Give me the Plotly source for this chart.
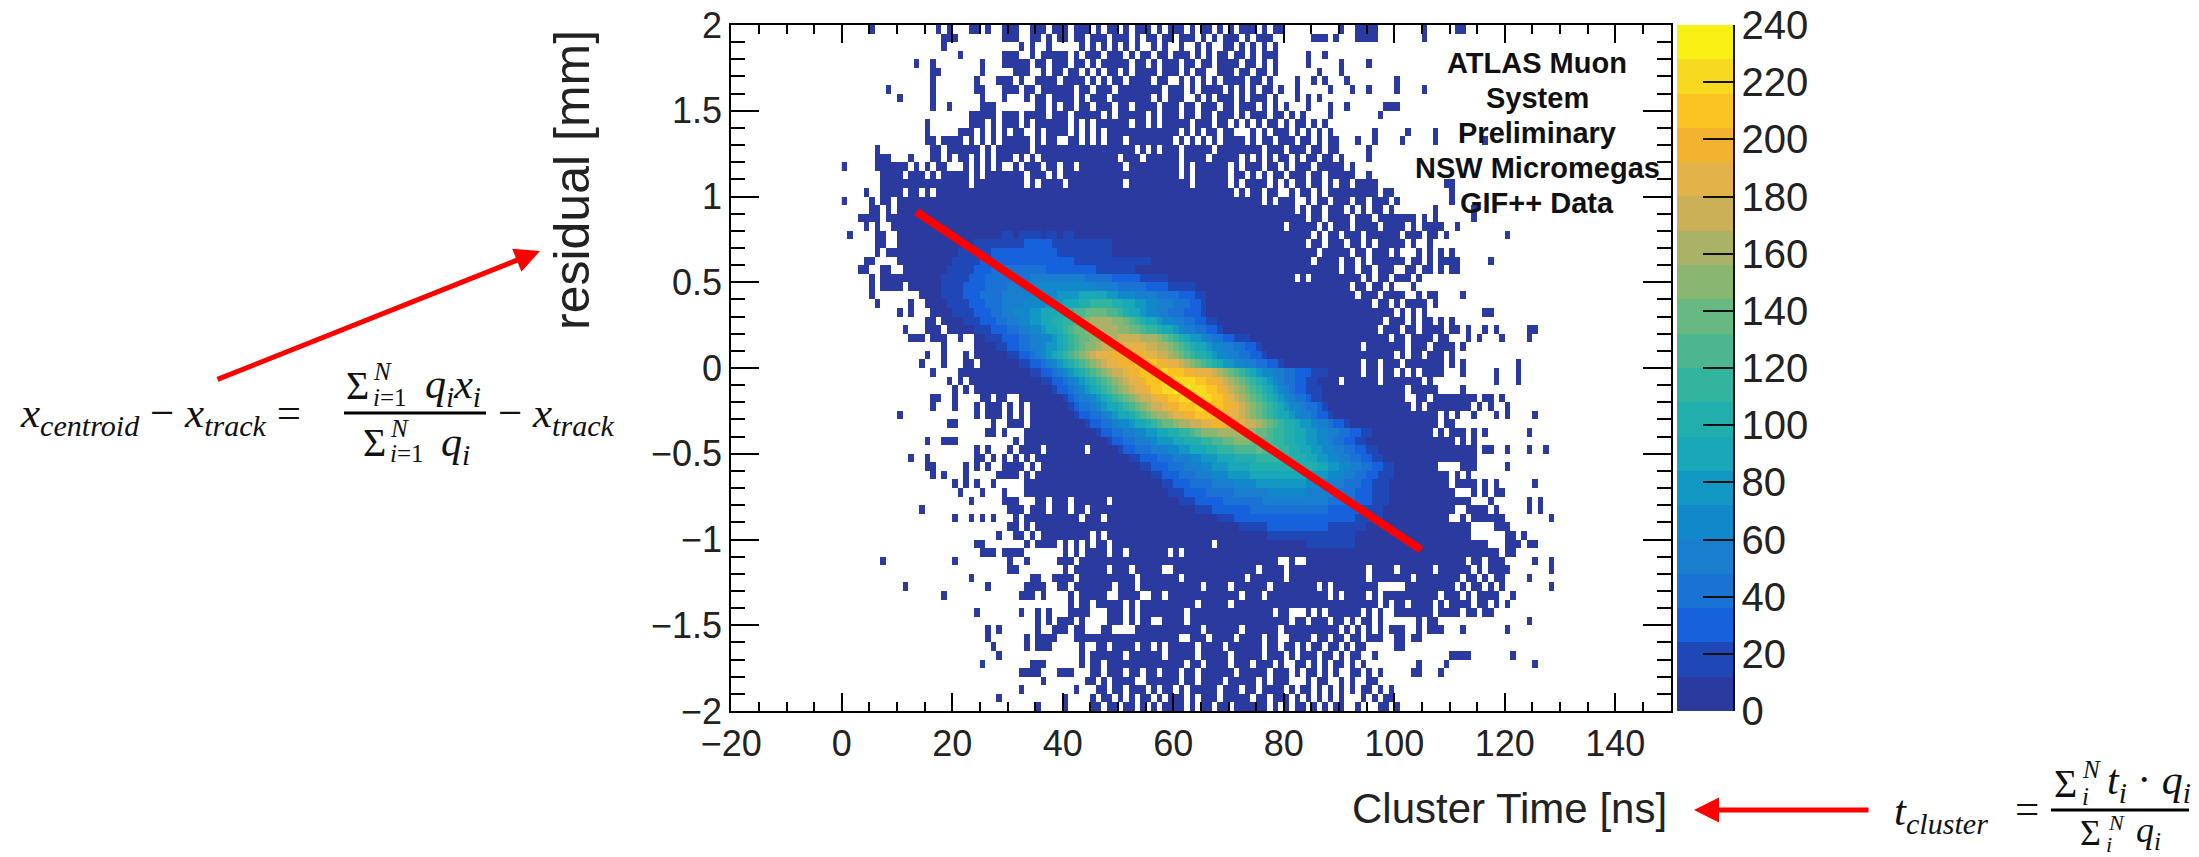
import plotly.graph_objects as go

W, H = 2199, 857
PAGE_MARGIN = 8  # the page body offsets the figure by this many pixels

# Histogram occupancy, one string per y bin from y=2 downward, one char per 1 ns bin from x=0.
# "." = empty, "0" = lowest colour band (0-12 counts). Groups of ten columns for legibility.
OCCUPANCY_ROWS = [
".....0.... .......0.0 ...00.0..0 00..000.00 0.000.0.00 .0.000.0.0 00.0.00.0. 0.000.0.00 .......... 0..0000... .....0.... .00",
".......... ........00 0........0 00..00.0.0 0.00.000.0 00.0.00.00 .000.0.0.0 00.0.000.. .....000.0 ...0000... .....0....",
".......... ........0. .......... ..0.0..0.. ...0.0.0.0 .0.0..0.0. .0..0.0..0 0.0.0.0.0.",
".......... .......... .0.......0 00..0.0000 0.0.000.00 0.0.00.00. 000.0.0.00 .00.0.000. ....0..0..",
".......... ...0..0... .....0...0 0000.00.00 0.00.0.000 00.00.0.00 0.00.00.00 00.00.0.0. ....0..... 0....0....",
".......... ......00.. .....0.... .000..0.00 .00.0.0.00 .0.0000.00 0.0.00..00 0.00.00.0. ......0... 0.........",
".......... ......0... ....0...00 0.0..0000. 0000.0.0.0 0.0000.00. .0.0.0.0.0 000.00.0.. ..0..0.0.. .0........ 0.........",
"........0. ......0... ....00...0 00.00.0000 00.00.000. 00000000.0 00.0.0000. 0.0.0.00.0 ..0.....0. ..0..0.... 0....0....",
".......... 0.....0... .....0...0 ...0.00.00 00.0.000.0 000000.0.0 00..0.0.00 0.0.000.0. ..0.0.0... ..........",
".......... ......0..0 .....000.. .....00.0. 00.00.000. 00.0000.00 0.00.000.0 0.000.0.0. 0...0...0. .0......00 0.........",
".......... .......... ...00000.0 00.0000.00 0.00000.0. 00000.0.00 0.00.00.00 0.0.000.00 .0.0....0. .......0..",
".......... .....0.... ...000.0.0 00.0.00000 0.0.0.0000 00.00.0.00 000.000.00 .0.0.0.00. 0.00.0.0.. ..........",
".......... .....0.... .000.0.0.0 .00..0.000 0.0.0.0.00 0000000000 0.0.0.00.0 0...0.0.00 0.0.0.0.0. ......0... ..0....0..",
".......... .....00.00 00.0.0.0.0 0000.0.00. .00.0.0.00 0.00000000 .0.0.0.0.0 000.0.00.0 00.00.0.00 ...0..0... .0.....0.. ......0...",
"......0... ......00.0 00000.0.00 0000.00000 0000000000 000.0.0.00 0.00000.00 000000.000 .000.00.00 .....0....",
"......000. ..0...00.0 .00.0.0.00 0.0.0.0000 0000000000 .000.00000 0.0000.000 00.0.0.0.0 0.0.00.00. 0....0....",
"0.....0000 00.0.0.00. ..0.0.0.0. .0.000.00. 00.0000000 0.00000000 0.0.000000 .0.000.00. 0.000.0000 0.0.......",
".......000 0.000.0.00 000.0.0000 000.000.0. 0000000000 0000000000 0.0.000000 .00.0.0.00 .000.00.00 000..0....",
".......000 0000000000 000.000000 000.0.0000 .000000000 0.00000000 000.000000 .0.0000.0. 0.00.00.0. 00.0000... .........0 0.........",
"....0..000 0.00.0.000 0000000000 0000000000 0000000000 0000000000 0000000000 0.0.00.00. .0.00.0.00 0000000.00 .......... 0.........",
"0....0.00. 0000000000 0000000000 0000000000 0000000000 0000000000 0000000000 000000.0.0 00..0.00.0 00.00.000. 0......... 0.........",
".....00.0. 0000000000 0000000000 0000000000 0000000000 0000000000 0000000000 0000000000 00.0.00.00 0.0.0.00.0 .......0.. ....0.....",
"...0000.00 0000000000 0000000000 0000000000 0000000000 0000000000 0000000000 0000000000 0000.00.00 00.000.000 0000.0.0.. ....0.....",
"....0.0..0 0000000000 0000000000 0000000000 0000000000 0000000000 0000000000 0000000000 .00000.0.0 00.0000.00 00.0.0000. .0........",
".0....00.. 0000000000 0000000000 0000000000 0000000000 0000000000 0000000000 0000000000 00000.0.00 .000.00000 0.000.00.0 .......... 0.........",
"......00.. 0000000000 0000000000 0000000000 0000000000 0000000000 0000000000 0000000000 0000.00.00 0.00.0.000 00.0..0...",
"......0.00 0000000000 0000000000 0000000000 0000000000 0000000000 0000000000 0000000000 000000.000 00.00.000. 0...0.0.0. 0.........",
"....00.... 0000000000 0000000000 0000000000 0000000000 0000000000 0000000000 0000000000 00000.0000 .00.0.0000 00.00.0.00 00.....0..",
"...00..00. .000000000 0000000000 0000000000 0000000000 0000000000 0000000000 0000000000 0000000000 .00.00.000 ..00.00.0. 00........",
".....0.000 0000000000 0000000000 0000000000 0000000000 0000000000 0000000000 0000000000 00.0.00000 0000.0.00. 000.0.....",
".....0.000 0.00000000 0000000000 0000000000 0000000000 0000000000 0000000000 0000000000 0000000000 00.00.00.0 ...0......",
".....0.... ....000000 0000000000 0000000000 0000000000 0000000000 0000000000 0000000000 0000000000 000.000.00 00..0.00.. ..0.......",
"......0... ..0..00000 0000000000 0000000000 0000000000 0000000000 0000000000 0000000000 0000000000 000000.00. 0.0000.0.. ..........",
".......... 0.0...0000 0000000000 0000000000 0000000000 0000000000 0000000000 0000000000 0000000000 0000000000 .0.0.0.... ......00..",
".......... .....00.00 0000000000 0000000000 0000000000 0000000000 0000000000 0000000000 0000000000 00000000.0 00.0.00.0. 0.........",
".......... .0...000.0 0000000000 0000000000 0000000000 0000000000 0000000000 0000000000 0000000000 0000000.00 0.00.0000. 00.0..0.0. ....00....",
".......... ..000.000. .0..000000 0000000000 0000000000 0000000000 0000000000 0000000000 0000000000 000000000. 00.0000.00 ...0.0...0 ....0.....",
".......... ........0. ....000000 0000000000 0000000000 0000000000 0000000000 0000000000 0000000000 0000.00000 00.000.000 0.0.......",
".......... .....0..0. ..0.000000 0000000000 0000000000 0000000000 0000000000 0000000000 0000000000 0000000000 .0.00.000. 0.........",
".......... ....0...0. ..00.00000 0000000000 0000000000 0000000000 0000000000 0000000000 0000000000 0000.00.00 0.0000000. 0.0....... ..0.......",
".......... ......0... .000000000 0000000000 0000000000 0000000000 0000000000 0000000000 0000000000 0000.00.00 .0.0.0000. ..0.....0. ..0.......",
".......... .........0 .0.0000000 0000000000 0000000000 0000000000 0000000000 0000000000 0000000000 .000000.00 00000.0... ........0. ..0.......",
".......... .......... 0.0.000000 0000000000 0000000000 0000000000 0000000000 0000000000 0000000000 0000000000 00.00000.. ..0.......",
".......... ......00.. 0....00.00 ..00000000 0000000000 0000000000 0000000000 0000000000 0000000000 0000000000 00..00.000 00000.00.0",
".......... ......0... 0...0.000. 0.0.000000 0000000000 0000000000 0000000000 0000000000 0000000000 0000000000 000.0.0000 0000.0.0.. 0.........",
".......... 0......... ....0.000. 0.0.000000 0000000000 0000000000 0000000000 0000000000 0000000000 0000000000 00000000.0 .0..0...0. 0....0....",
".......... .........0 0......0.. 000.000000 0000000000 0000000000 0000000000 0000000000 0000000000 0000000000 00000000.0 0.........",
".......... .......... ......00.0 ...0000000 0000000000 0000000000 0000000000 0000000000 0000000000 0000000000 0000000.0. 000.0.0... ....0.....",
".......... .....0..00 0......... .0.0000000 0000000000 0000000000 0000000000 0000000000 0000000000 0000000000 0000000000 0.0.0.....",
".......... .......... ....0.0... 0.0000.000 0000.00000 0000000000 0000000000 0000000000 0000000000 0000000000 0000000000 00000.00.. 0...0..0..",
".......... ..0..0.... ....00.0.0 .0.0.00000 0000000000 0000000000 0000000000 0000000000 0000000000 0000000000 0000000000 00000.....",
".......... .....00... ..0.0.0..0 000.0.0000 0000000000 0000000000 0000000000 0000000000 0000000000 0000000000 00000000.. ..000..... 0.........",
".......... ......0.0. ..0.....00 00.0.00000 0000000000 0000000000 0000000000 0000000000 0000000000 0000000000 0000000000 .0.0......",
".......... .......... 0.0.0..0.. ...0000000 0000000000 0000000000 0000000000 0000000000 0000000000 0000000000 0000000000 .0000.0.0. .....0....",
".......... .......... .0...0...0 ...0000000 0000000000 0000000000 0000000000 0000000000 0000000000 0000000000 0000000000 0...0.0.00",
".......... .......... ...0.....0 00...00.00 0.000000.0 0000000000 0000000000 0000000000 0000000000 0000000000 0000000000 0000...0.. ....0.0...",
".......... ....0..... .......... 000.000.00 0.00.00000 0000000000 0000000000 0000000000 0000000000 0000000000 0000000000 0..0000.0. ....0.0...",
".......... .......... 0..0.0.0.. .0.0000000 000.000.00 0000000000 0000000000 0000000000 0000000000 0000000000 0000000000 ..0.000000 ........0.",
".......... .......... .......... 00.0.00000 0000000000 0000000000 0000000000 0000000000 0000000000 0000000000 0000000000 0000....00 0.........",
".......... .......... ........0. .00.0.0000 00000.0.00 0000000000 0000000000 0000000000 0000000000 0000000000 0000000000 0000...... 00.0......",
".......... .......... ....00.... ...0.0000. 0.0.0.00.0 0000000000 0000000.00 0000000000 0000000000 0000000000 0000000000 0000000... 000.00....",
".......... .......... .....000.0 000....... 0.0.0000.0 0.0000000. 0.00000000 0000000000 0000000000 0000000000 0000000000 000000000. 00........",
".......0.. .......... 0......... 0..0.....0 00.0000000 0000000000 0000000000 000000000. .0..000000 0000000000 0000000000 000.00.000 .....0..0.",
".......... .......... .......... 00........ 0.000000.0 00.00000.. 0000000000 00000.0000 .000000000 00000.0000 .000000.00 0000.0.000 0.......0.",
".......... .......... ...0...... ....00..00 00.0000000 000.000000 0.00000000 000.000000 .000000000 00000.0000 000.000000 00.00.0.00 ....0.....",
".......... .0........ ......0... ...0000..0 0.0000000. 000.000000 00000.0000 .000000.00 000000.0.0 0000000... ..00000000 0.0.00.0.0 ........0.",
".......... ........0. .......... ..000.0... .0.00000.. 0000..00.0 0000000000 00.000.000 00000000.0 .0000.0.00 00000000.0 00.0.0000. .0........",
".......... .......... .......... .......... .0.00.0000 0.0.000000 0000.00000 .000000000 0000000000 0000000.0. 00.0000.0. 0000.00.0. 0.........",
".......... .......... ....0..... ..0..0.0.. .0000...00 0.0.000000 00.0000000 00000000.0 0...0.0.00 0000.0.0.. 0000000.00 00.00.00..",
".......... .......... .......... .....0.0.0 00.0....00 0.0.00..00 00.0000000 0000000000 0.00.000.0 0.0.00.0.. ....0.00.. .......... ....0.....",
".......... .......... ......0.0. .....0..00 0.00...00. ...0000000 00000.0000 00.000000. 0000000000 .0.0.0.0.0 00..0.000. ..0....... 0.........",
".......... .......... ......0... ...0.0000. ..00000000 0000000000 0..000.000 0.0000.00. .0000.00.0 0.00.000.. 00.00.....",
".......... .......... .......0.. ...0.000.. ...0..00.0 000.00.0.0 0000.0000. 000000.00. 00.0.00.00 .0.00..... 00........",
".......... .......... ........0. .......... ...0.00000 0.000000.0 0000.00000 .00000.000 .0.000.00. 0.00..0... .......... 0000...... .0........",
".......... .......... .....0.... ....000... ...0.00.00 0000000000 00.00.0000 .000.000.0 ..00.0.0.0 0.0.0..... ....0....0 .......... .....0....",
".......... .......... .......... ..0000...0 00...00.00 0.00.00.00 0.00.00000 0.00000.00 0.0.00.0.0 ..00.0.0.. ...00...0.",
".......... .......... .......... ......0... ....00.0.0 000..00000 0.00.0000. 00000.0.00 0...0.00.. 0.0..00...",
".......... .......... .......... ..0....... ..0...00.0 0.000.0.00 .0.00000.0 00.00.0000 .0.00.0.0. 0.0.00.0.0",
".......... .......... ........0. .......... 0....0.00. 0.0.00.0.0 00.0.000.0 0000.00.00 0.0.0.0.0. 0...0.0.00",
".......... .......... .......... .....0.... 0....00.00 .00.0.0.00 00.0.00.00 .000000.0. 0.00.0.0.0 0..0...00. 0.........",
]

# Brighter bands of the ridge: band digits (base 20) per row, written from the start column.
CORE_ROW = [24, 25, 26, 27, 28, 29, 30, 31, 32, 33, 34, 35, 36, 37, 38, 39, 40, 41, 42, 43, 44, 45,
            46, 47, 48, 49, 50, 51, 52, 53, 54, 55, 56, 57, 58, 59, 60]
CORE_START = [28, 24, 21, 20, 19, 18, 18, 18, 19, 20, 22, 24, 26, 28, 30, 32, 34, 36, 38, 40, 41, 42,
              44, 46, 48, 50, 52, 54, 56, 58, 59, 61, 64, 68, 72, 77, 84]
CORE_BANDS = [
"01101111011011",
"1111111112222211111111111",
"1111112222222222221111111111",
"111112222222222222222211111111111111",
"1111122233333333332222222221111111",
"11111222333333334444444444333332222211111",
"1111222233334444455555555555444433333222211111",
"111122233334444455555666677777665554444333322211",
"11112223334444555566677788999988776655444333221",
"1111222334455566777889aabbbbaa9877655443332221",
"11122233445566778899abcddddccba987765544332211",
"11122233445567789abbccddddccbba99877654433221",
"1112223344556789abbccdddeeeedddcba98766543322111",
"11223344566789abccdeeeeffffeeddcba98776554433221",
"11223456789abcdefffggggggffeedcba98876554433221",
"11223456789abcdeffggghhhhggffedcba98766554433221",
"11223456789abcdeefgghhhhihhhggfffedcba9876554433222111",
"11223456789abcdeffghhhiiiiiihhggfedcba987654332211",
"1223456789abcdeffghhiijjjiiihhgfedcba987654322111",
"1234456789abcdeefgghhiijjiihhgfedcba98765433211",
"12334567789abcdeefgghhhiihhhggfedcba98765543321",
"122334567789abcddeffgghhhhggffedcba987765443221",
"1223345567789abbcddeeffggggffeedcba9887665443221",
"12233445566778899abcccdddddccbba998877665544332211",
"1223344456667788899aabbcccbbaa99887766554332211",
"122333444556677788999aaaabaaa998877665544332211",
"1122233344455666777888899999988877665544332211",
"1122233344455666777788888888888877665544332211",
"11222333444555666677777777777666555443322111",
"11222333344445555666666666555544433322111",
"1112222333334444445555555444443333222111",
"11122222333333344444444444433333222111",
"1112222222333333333333332222221111",
"111222222222222222222222211111",
"11111222222222221111111",
"1111111111111111",
"111111111",
]

BAND_STEP = 12
COLOR_BANDS = ["#2b3a9f", "#1f47b5", "#1662dc", "#1a72d4", "#1a7ecf", "#1188ca", "#1298c2", "#18a8b8",
               "#22aeac", "#33b49f", "#4bb690", "#68b882", "#89b772", "#a9b266", "#cbb058", "#e3b248",
               "#f2b430", "#fcc423", "#f7d91f", "#f9f114"]

X_CENTERS = [c + 0.5 for c in range(130)]
Y_CENTERS = [2 - 0.05 * (r + 0.5) for r in range(80)]
CBAR_TICKS = [0, 20, 40, 60, 80, 100, 120, 140, 160, 180, 200, 220, 240]
FIT_X = [13.5, 104.8]
FIT_Y = [0.91, -1.06]
STAMP_LINES = ["ATLAS Muon", "System", "Preliminary", "NSW Micromegas", "GIF++ Data"]
STAMP_Y = [63, 98, 133, 168, 203]

DIGITS = "0123456789abcdefghij"


def count_of(ch):
    return (DIGITS.index(ch) + 0.5) * BAND_STEP


grid = []
for text in OCCUPANCY_ROWS:
    joined = text.replace(" ", "").ljust(130, ".")[:130]
    grid.append([None if ch == "." else count_of(ch) for ch in joined])
for row, start, bands in zip(CORE_ROW, CORE_START, CORE_BANDS):
    for i, ch in enumerate(bands):
        grid[row][start + i] = count_of(ch)

steps = []
n = len(COLOR_BANDS)
for i, col in enumerate(COLOR_BANDS):
    steps.append([i / n, col])
    steps.append([(i + 1) / n, col])


def px(x):
    return (x - PAGE_MARGIN) / W


def py(y):
    return 1 - (y - PAGE_MARGIN) / H


L, R, T, B = 731.3, 1670.5, 25, 711

fig = go.Figure()
fig.add_trace(go.Heatmap(
    x=X_CENTERS, y=Y_CENTERS, z=grid, zmin=0, zmax=240, colorscale=steps, hoverongaps=False,
    colorbar=dict(
        x=px(1677), xanchor="left", xpad=0, ypad=0, y=py((T + B) / 2), yanchor="middle",
        thickness=56, thicknessmode="pixels", len=B - T, lenmode="pixels",
        outlinewidth=0, borderwidth=0, tickmode="array", tickvals=CBAR_TICKS,
        ticks="inside", ticklen=30, tickwidth=2, tickcolor="#111111", ticklabeloverflow="allow",
        tickfont=dict(family="Liberation Sans", size=40, color="#222222"),
    ),
))
fig.add_trace(go.Scatter(x=FIT_X, y=FIT_Y, mode="lines", line=dict(color="#ff0000", width=8), hoverinfo="skip",
                         showlegend=False))

TICKFONT = dict(family="Liberation Sans", size=36, color="#222222")
fig.update_layout(
    width=W, height=H, margin=dict(l=0, r=0, t=0, b=0, autoexpand=False), paper_bgcolor="white", plot_bgcolor="white",
    showlegend=False,
    xaxis=dict(domain=[px(L), px(R)], range=[-20, 150], tick0=-20, dtick=20, ticks="inside", ticklen=18, tickwidth=2,
               tickcolor="black", showline=True, linecolor="black", linewidth=2, mirror="ticks", showgrid=False,
               zeroline=False, tickfont=TICKFONT, ticklabeloverflow="allow",
               minor=dict(dtick=5, tick0=-20, ticks="inside", ticklen=9, tickwidth=2, tickcolor="black", showgrid=False)),
    yaxis=dict(domain=[py(B), py(T)], range=[-2, 2], tick0=-2, dtick=0.5, ticks="inside", ticklen=28, tickwidth=2,
               tickcolor="black", showline=True, linecolor="black", linewidth=2, mirror="ticks", showgrid=False,
               zeroline=False, tickfont=TICKFONT, ticklabeloverflow="allow",
               minor=dict(dtick=0.1, tick0=-2, ticks="inside", ticklen=14, tickwidth=2, tickcolor="black", showgrid=False)),
)

SERIF = "Liberation Serif"


def note(x, y, text, size, family="Liberation Sans", anchor="left", angle=0, color="#111111"):
    fig.add_annotation(xref="paper", yref="paper", x=px(x), y=py(y), text=text, showarrow=False, xanchor=anchor,
                       yanchor="middle", textangle=angle, font=dict(family=family, size=size, color=color),
                       xshift=0, yshift=0, borderpad=0)


note(572, 180, "residual [mm]", 50, anchor="center", angle=-90, color="#222222")
note(1668, 808, "Cluster Time [ns]", 42, anchor="right", color="#222222")

for line, y in zip(STAMP_LINES, STAMP_Y):
    note(1537, y, f"<b>{line}</b>", 29, anchor="center")

# first formula
note(19, 416, "<i>x<sub>centroid</sub></i> − <i>x<sub>track</sub></i> =", 43, SERIF)
note(345, 385, "Σ", 40, SERIF)
note(372, 397, "<i>i</i>=1", 25, SERIF)
note(372, 371, "<i>N</i>", 25, SERIF)
note(424, 387, "<i>q<sub>i</sub>x<sub>i</sub></i>", 42, SERIF)
note(362, 442, "Σ", 40, SERIF)
note(389, 454, "<i>i</i>=1", 25, SERIF)
note(389, 428, "<i>N</i>", 25, SERIF)
note(440, 445, "<i>q<sub>i</sub></i>", 42, SERIF)
note(497, 416, "− <i>x<sub>track</sub></i>", 43, SERIF)

# second formula
note(1893, 814, "<i>t<sub>cluster</sub></i>", 43, SERIF)
note(2014, 808, "=", 43, SERIF)
note(2053, 783, "Σ", 40, SERIF)
note(2081, 796, "<i>i</i>", 25, SERIF)
note(2081, 769, "<i>N</i>", 25, SERIF)
note(2106, 783, "<i>t<sub>i</sub></i> · <i>q<sub>i</sub></i>", 42, SERIF)
note(2079, 833, "Σ", 36, SERIF)
note(2105, 844, "<i>i</i>", 22, SERIF)
note(2107, 822, "<i>N</i>", 22, SERIF)
note(2135, 832, "<i>q<sub>i</sub></i>", 36, SERIF)


def paper_line(x0, y0, x1, y1, width, color="black"):
    fig.add_shape(type="line", xref="paper", yref="paper", x0=px(x0), y0=py(y0), x1=px(x1), y1=py(y1),
                  line=dict(color=color, width=width))


paper_line(344, 413, 486, 413, 3)
paper_line(2051, 810, 2189, 810, 3)
paper_line(1734, T, 1734, B, 2, "#111111")

for tip, tail in [((540, 251), (216, 380)), ((1694, 810), (1870, 810))]:
    fig.add_annotation(xref="paper", yref="paper", x=px(tip[0]), y=py(tip[1]), ax=tail[0] - tip[0], ay=tail[1] - tip[1],
                       axref="pixel", ayref="pixel", text="", showarrow=True, arrowhead=2, arrowsize=1, arrowwidth=5,
                       arrowcolor="#ff0000", standoff=0)

fig.write_html("out.html")
